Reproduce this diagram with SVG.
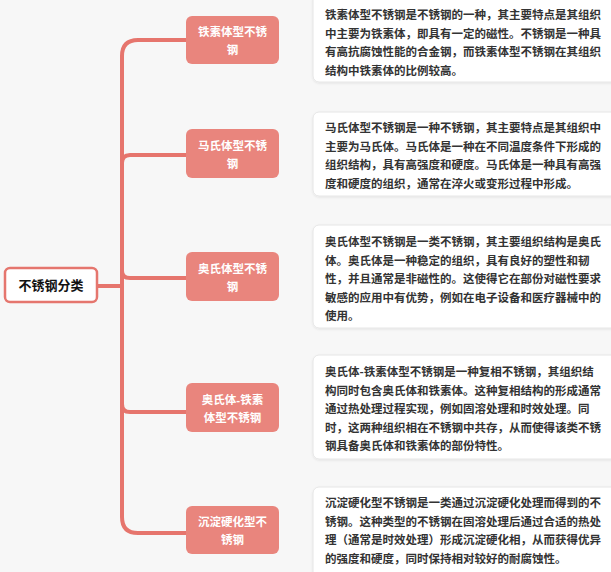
<svg xmlns="http://www.w3.org/2000/svg" width="611" height="572" viewBox="0 0 611 572">
<defs>
<style>
.bg{fill:#f7f7f7}
.root rect{fill:#ffffff;stroke:#e5766e;stroke-width:2.5}
.root text{font-family:"Liberation Sans","Noto Sans CJK SC",sans-serif;font-size:13px;font-weight:bold;fill:#111;text-anchor:middle}
.sub rect{fill:#e9857d}
.sub text{font-family:"Liberation Sans","Noto Sans CJK SC",sans-serif;font-size:11.5px;font-weight:bold;fill:#ffffff;text-anchor:middle}
.desc rect{fill:#ffffff;stroke:#e6e6e6;stroke-width:1;filter:url(#sh)}
.desc text{font-family:"Noto Sans CJK SC",sans-serif;font-size:11.5px;font-weight:bold;fill:#333333}
.trunk{fill:none;stroke:#e6756d;stroke-width:4;stroke-linecap:round}
.link{fill:none;stroke:url(#fade);stroke-width:3}
</style>
<linearGradient id="fade" x1="0" y1="0" x2="1" y2="0">
<stop offset="0" stop-color="#f4b9b5"/>
<stop offset="1" stop-color="#fbe9e8" stop-opacity="0.6"/>
</linearGradient>
<filter id="sh" x="-5%" y="-10%" width="110%" height="125%">
<feDropShadow dx="0" dy="1" stdDeviation="1" flood-color="#000" flood-opacity="0.08"/>
</filter>
</defs>
<rect class="bg" x="0" y="0" width="611" height="572"/>

<g id="connectors">
<path class="trunk" d="M97 286 H122" stroke-width="5"/>
<path class="trunk" d="M186 40 H138 Q122 40 122 56 V517 Q122 533 138 533 H186"/>
<path class="trunk" d="M122 163 Q122 155 130 155 H186"/>
<path class="trunk" d="M122 271 Q122 278 130 278 H186"/>
<path class="trunk" d="M122 404 Q122 412 130 412 H186"/>
<path class="link" d="M279 40 H314"/>
<path class="link" d="M279 154 H314"/>
<path class="link" d="M279 277 H314"/>
<path class="link" d="M279 408 H314"/>
<path class="link" d="M279 531 H314"/>
</g>

<g id="root" class="root">
<rect x="5" y="268" width="92" height="34" rx="5"/>
<text x="51" y="290">不锈钢分类</text>
</g>

<g id="n1" class="sub">
<rect x="186" y="16" width="93" height="48" rx="6"/>
<text x="232.5" y="36">铁素体型不锈</text>
<text x="232.5" y="54">钢</text>
</g>
<g id="n2" class="sub">
<rect x="186" y="129" width="93" height="49" rx="6"/>
<text x="232.5" y="149.5">马氏体型不锈</text>
<text x="232.5" y="167.5">钢</text>
</g>
<g id="n3" class="sub">
<rect x="186" y="252" width="93" height="49" rx="6"/>
<text x="232.5" y="272.5">奥氏体型不锈</text>
<text x="232.5" y="290.5">钢</text>
</g>
<g id="n4" class="sub">
<rect x="186" y="383" width="93" height="49" rx="6"/>
<text x="232.5" y="403.5">奥氏体-铁素</text>
<text x="232.5" y="421.5">体型不锈钢</text>
</g>
<g id="n5" class="sub">
<rect x="186" y="506" width="93" height="48" rx="6"/>
<text x="232.5" y="526">沉淀硬化型不</text>
<text x="232.5" y="544">锈钢</text>
</g>

<g id="d1" class="desc">
<rect x="313" y="-6" width="310" height="88" rx="6"/>
<text x="325" y="19">
<tspan x="325">铁素体型不锈钢是不锈钢的一种，其主要特点是其组织</tspan>
<tspan x="325" dy="18.5">中主要为铁素体，即具有一定的磁性。不锈钢是一种具</tspan>
<tspan x="325" dy="18.5">有高抗腐蚀性能的合金钢，而铁素体型不锈钢在其组织</tspan>
<tspan x="325" dy="18.5">结构中铁素体的比例较高。</tspan>
</text>
</g>
<g id="d2" class="desc">
<rect x="313" y="112" width="310" height="84" rx="6"/>
<text x="325" y="132">
<tspan x="325">马氏体型不锈钢是一种不锈钢，其主要特点是其组织中</tspan>
<tspan x="325" dy="18.5">主要为马氏体。马氏体是一种在不同温度条件下形成的</tspan>
<tspan x="325" dy="18.5">组织结构，具有高强度和硬度。马氏体是一种具有高强</tspan>
<tspan x="325" dy="18.5">度和硬度的组织，通常在淬火或变形过程中形成。</tspan>
</text>
</g>
<g id="d3" class="desc">
<rect x="313" y="225" width="310" height="103" rx="6"/>
<text x="325" y="246">
<tspan x="325">奥氏体型不锈钢是一类不锈钢，其主要组织结构是奥氏</tspan>
<tspan x="325" dy="18.5">体。奥氏体是一种稳定的组织，具有良好的塑性和韧</tspan>
<tspan x="325" dy="18.5">性，并且通常是非磁性的。这使得它在部份对磁性要求</tspan>
<tspan x="325" dy="18.5">敏感的应用中有优势，例如在电子设备和医疗器械中的</tspan>
<tspan x="325" dy="18.5">使用。</tspan>
</text>
</g>
<g id="d4" class="desc">
<rect x="313" y="355" width="310" height="104" rx="6"/>
<text x="325" y="376">
<tspan x="325">奥氏体-铁素体型不锈钢是一种复相不锈钢，其组织结</tspan>
<tspan x="325" dy="18.5">构同时包含奥氏体和铁素体。这种复相结构的形成通常</tspan>
<tspan x="325" dy="18.5">通过热处理过程实现，例如固溶处理和时效处理。同</tspan>
<tspan x="325" dy="18.5">时，这两种组织相在不锈钢中共存，从而使得该类不锈</tspan>
<tspan x="325" dy="18.5">钢具备奥氏体和铁素体的部份特性。</tspan>
</text>
</g>
<g id="d5" class="desc">
<rect x="313" y="487" width="310" height="100" rx="6"/>
<text x="325" y="507">
<tspan x="325">沉淀硬化型不锈钢是一类通过沉淀硬化处理而得到的不</tspan>
<tspan x="325" dy="18.5">锈钢。这种类型的不锈钢在固溶处理后通过合适的热处</tspan>
<tspan x="325" dy="18.5">理（通常是时效处理）形成沉淀硬化相，从而获得优异</tspan>
<tspan x="325" dy="18.5">的强度和硬度，同时保持相对较好的耐腐蚀性。</tspan>
</text>
</g>
</svg>
